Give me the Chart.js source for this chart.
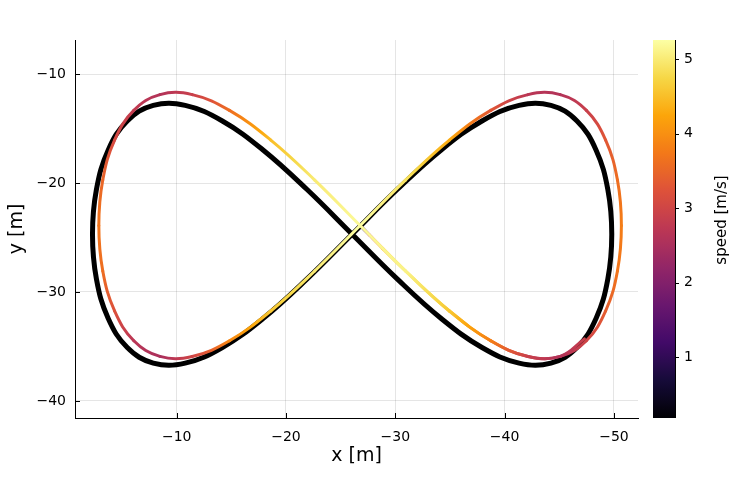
<!DOCTYPE html>
<html>
<head>
<meta charset="utf-8">
<script src="https://cdn.jsdelivr.net/npm/chart.js@4"></script>
<style>
  body { margin: 0; background: #fff; }
</style>
</head>
<body>
<canvas id="c" width="747" height="498"></canvas>
<script>
// reference path (black figure eight)
const refX = [-26.05, -21.93, -17.93, -14.18, -10.78, -7.86, -5.48, -3.73, -2.66, -2.30, -2.66, -3.73,
              -5.48, -7.86, -10.78, -14.18, -17.93, -21.93, -26.05, -30.17, -34.17, -37.93, -41.32, -44.24,
              -46.62, -48.37, -49.44, -49.80, -49.44, -48.37, -46.62, -44.24, -41.32, -37.93, -34.17, -30.17, -26.05];
const refY = [-24.70, -20.60, -16.99, -14.31, -12.88, -12.88, -14.31, -16.99, -20.60, -24.70, -28.80, -32.41,
              -35.09, -36.52, -36.52, -35.09, -32.41, -28.80, -24.70, -20.60, -16.99, -14.31, -12.88, -12.88,
              -14.31, -16.99, -20.60, -24.70, -28.80, -32.41, -35.09, -36.52, -36.52, -35.09, -32.41, -28.80, -24.70];

// driven trajectory and its speed
const trajX = [-26.78, -27.61, -28.86, -30.93, -34.95, -38.73, -42.14, -45.09, -47.48, -49.24, -50.32, -50.68,
               -50.32, -49.24, -47.48, -45.09, -42.14, -38.73, -34.95, -30.93, -26.78, -22.63, -18.61, -14.83,
               -11.42, -8.47, -6.08, -4.32, -3.24, -2.88, -3.24, -4.32, -6.08, -8.47, -11.42, -14.83,
               -18.61, -22.63, -26.78, -30.93, -34.95, -38.73, -42.14, -45.09, -47.30];
const trajY = [-23.90, -24.75, -26.02, -28.07, -31.74, -34.47, -35.91, -35.91, -34.47, -31.74, -28.07, -23.90,
               -19.73, -16.06, -13.34, -11.89, -11.89, -13.34, -16.06, -19.73, -23.90, -28.07, -31.74, -34.47,
               -35.91, -35.91, -34.47, -31.74, -28.07, -23.90, -19.73, -16.06, -13.34, -11.89, -11.89, -13.34,
               -16.06, -19.73, -23.90, -28.07, -31.74, -34.47, -35.91, -35.91, -34.30];
const trajSpeed = [0.18, 2.6, 4.3, 5.0, 4.6, 3.8, 2.9, 2.6, 3.0, 3.4, 3.7, 3.8,
                   3.6, 3.3, 2.9, 2.6, 2.7, 3.3, 4.3, 4.9, 5.25, 5.0, 4.6, 3.9,
                   3.0, 2.5, 2.7, 3.2, 3.6, 3.7, 3.5, 3.1, 2.8, 2.6, 2.9, 3.6,
                   4.5, 5.0, 5.2, 5.1, 4.6, 3.8, 2.9, 2.6, 2.9];

const xTicks = [-10, -20, -30, -40, -50];
const yTicks = [-40, -30, -20, -10];
const cbTicks = [1, 2, 3, 4, 5];
const speedMin = 0.18, speedMax = 5.26;

// inferno colormap
const inferno = ['#000004', '#160b39', '#420a68', '#6a176e', '#932667', '#bc3754',
                 '#dd513a', '#f37819', '#fca50a', '#f6d746', '#fcffa4'];
const infRgb = inferno.map(h => [1, 3, 5].map(i => parseInt(h.substr(i, 2), 16)));
function speedColor(v) {
  let t = (v - speedMin) / (speedMax - speedMin);
  t = Math.max(0, Math.min(1, t)) * (infRgb.length - 1);
  const i = Math.min(Math.floor(t), infRgb.length - 2);
  const f = t - i;
  const a = infRgb[i], b = infRgb[i + 1];
  return 'rgb(' + a.map((c, k) => Math.round(c + (b[k] - c) * f)).join(',') + ')';
}

function segColor(ctx) {
  const s0 = trajSpeed[ctx.p0DataIndex], s1 = trajSpeed[ctx.p1DataIndex];
  const g = ctx.chart.ctx.createLinearGradient(ctx.p0.x, ctx.p0.y, ctx.p1.x, ctx.p1.y);
  for (let k = 0; k <= 4; k++) g.addColorStop(k / 4, speedColor(s0 + (s1 - s0) * k / 4));
  return g;
}

const fmt = v => String(v).replace('-', '\u2212');
const FONT = 'DejaVu Sans';

// no extra label padding, so the plot box sits where it should
function noPad(s) {
  s.paddingTop = 0; s.paddingBottom = 0; s.paddingLeft = 0; s.paddingRight = 0;
}

// inward ticks + colour bar
const frame = {
  id: 'frame',
  afterDraw(chart) {
    const c = chart.ctx, a = chart.chartArea;
    const sx = chart.scales.x, sy = chart.scales.y, sc = chart.scales.cb;
    c.save();
    c.strokeStyle = '#000';
    c.lineWidth = 1;
    c.beginPath();
    sx.ticks.forEach(t => {
      const p = Math.round(sx.getPixelForValue(t.value)) + 0.5;
      c.moveTo(p, a.bottom); c.lineTo(p, a.bottom - 5);
    });
    sy.ticks.forEach(t => {
      const p = Math.round(sy.getPixelForValue(t.value)) + 0.5;
      c.moveTo(a.left, p); c.lineTo(a.left + 5, p);
    });
    c.stroke();

    const bx = a.right + 15, bw = 22;
    const top = sc.getPixelForValue(speedMax), bot = sc.getPixelForValue(speedMin);
    const g = c.createLinearGradient(0, bot, 0, top);
    for (let k = 0; k <= 40; k++) g.addColorStop(k / 40, speedColor(speedMin + (speedMax - speedMin) * k / 40));
    c.fillStyle = g;
    c.fillRect(bx, top, bw, bot - top);
    c.beginPath();
    c.moveTo(bx + bw + 0.5, top); c.lineTo(bx + bw + 0.5, bot);
    sc.ticks.forEach(t => {
      const p = Math.round(sc.getPixelForValue(t.value)) + 0.5;
      c.moveTo(bx + bw, p); c.lineTo(bx + bw + 4, p);
    });
    c.stroke();

    c.translate(726, 220);
    c.rotate(-Math.PI / 2);
    c.font = '15px "' + FONT + '"';
    c.fillStyle = '#000';
    c.textAlign = 'center';
    c.textBaseline = 'alphabetic';
    c.fillText('speed [m/s]', 0, 0);
    c.restore();
  }
};

new Chart(document.getElementById('c'), {
  type: 'line',
  data: {
    datasets: [
      {
        data: trajX.map((x, i) => ({ x: x, y: trajY[i] })),
        borderColor: '#f37819',
        borderWidth: 3,
        pointRadius: 0,
        tension: 0.4,
        borderCapStyle: 'round',
        borderJoinStyle: 'round',
        segment: { borderColor: segColor, borderDashOffset: ctx => ctx.p0DataIndex }
      },
      {
        data: refX.map((x, i) => ({ x: x, y: refY[i] })),
        borderColor: '#000',
        borderWidth: 5,
        pointRadius: 0,
        tension: 0.4,
        borderJoinStyle: 'round'
      }
    ]
  },
  options: {
    responsive: false,
    animation: false,
    devicePixelRatio: 1,
    events: [],
    layout: { padding: { top: 40, left: 0, right: 0, bottom: 0 } },
    plugins: { legend: { display: false }, tooltip: { enabled: false } },
    scales: {
      x: {
        type: 'linear', reverse: true, min: -52.2, max: -0.7,
        afterBuildTicks: s => { s.ticks = xTicks.map(v => ({ value: v })); },
        afterFit: s => { s.height = 80; noPad(s); },
        grid: { color: 'rgba(0,0,0,0.1)', drawTicks: false },
        border: { color: '#000', width: 1 },
        ticks: { color: '#000', font: { family: FONT, size: 14 }, padding: 11, maxRotation: 0, callback: fmt },
        title: { display: true, text: 'x [m]', color: '#000', font: { family: FONT, size: 19 }, padding: { top: 0, bottom: 31 } }
      },
      y: {
        type: 'linear', min: -41.56, max: -6.88,
        afterBuildTicks: s => { s.ticks = yTicks.map(v => ({ value: v })); },
        afterFit: s => { s.width = 75; noPad(s); },
        grid: { color: 'rgba(0,0,0,0.1)', drawTicks: false },
        border: { color: '#000', width: 1 },
        ticks: { color: '#000', font: { family: FONT, size: 14 }, padding: 9, callback: fmt },
        title: { display: true, text: 'y [m]', color: '#000', font: { family: FONT, size: 19 }, padding: { top: 6, bottom: 0 } }
      },
      cb: {
        type: 'linear', position: 'right', min: speedMin, max: speedMax,
        afterBuildTicks: s => { s.ticks = cbTicks.map(v => ({ value: v })); },
        afterFit: s => { s.width = 109; noPad(s); },
        grid: { display: false, drawTicks: false },
        border: { display: false },
        ticks: { color: '#000', font: { family: FONT, size: 14 }, padding: 46 }
      }
    }
  },
  plugins: [frame]
});
</script>
</body>
</html>
